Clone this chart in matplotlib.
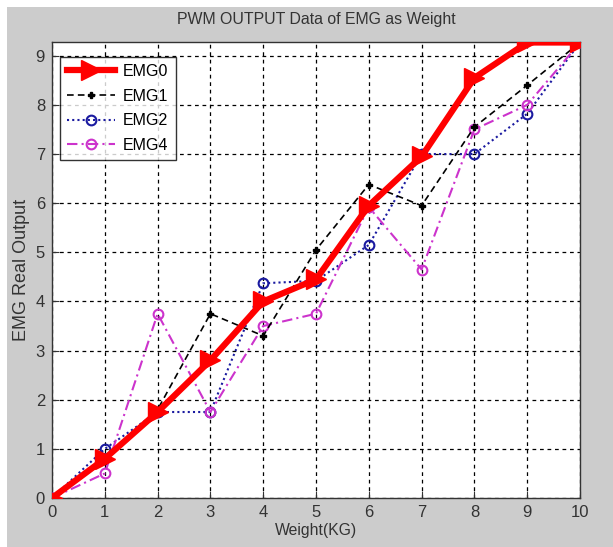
import matplotlib
matplotlib.use("Agg")
import matplotlib.pyplot as plt
from matplotlib.patches import Rectangle

weight = [0, 1, 2, 3, 4, 5, 6, 7, 8, 9, 10]
emg0 = [0, 0.8, 1.75, 2.8, 4.0, 4.45, 5.95, 6.95, 8.55, 9.27, 9.27]
emg1 = [0, 0.75, 1.8, 3.75, 3.3, 5.05, 6.38, 5.95, 7.55, 8.4, 9.27]
emg2 = [0, 1.0, 1.75, 1.75, 4.37, 4.42, 5.15, 7.0, 7.0, 7.82, 9.27]
emg4 = [0, 0.5, 3.75, 1.75, 3.5, 3.75, 5.92, 4.65, 7.5, 8.0, 9.27]
xticks = [0, 1, 2, 3, 4, 5, 6, 7, 8, 9, 10]
yticks = [0, 1, 2, 3, 4, 5, 6, 7, 8, 9]

plt.rcParams['font.family'] = ['Liberation Sans', 'DejaVu Sans']

W, H = 613, 547
fig = plt.figure(figsize=(W / 100, H / 100), dpi=100, facecolor='white')
bg = Rectangle((7 / W, 0), 1 - 7 / W, 1 - 7 / H, transform=fig.transFigure,
               facecolor='#cccccc', edgecolor='none', zorder=-10)
fig.add_artist(bg)
ax = fig.add_axes([52 / W, 1 - 498 / H, 528 / W, 456 / H])
ax.set_zorder(1)
ax.set_facecolor('white')

ax.plot(weight, emg0, color='#ff0000', lw=4.5, marker='>', markersize=14, label='EMG0', zorder=5)
ax.plot(weight, emg1, color='black', lw=1.2, ls=(0, (4, 2.5)), marker='P', markersize=5, label='EMG1', zorder=4)
ax.plot(weight, emg2, color='#1a1aa0', lw=1.5, ls=(0, (1, 1.5)), marker='o', markersize=7,
        markerfacecolor='none', markeredgewidth=1.5, label='EMG2', zorder=3)
ax.plot(weight, emg4, color='#cc33cc', lw=1.5, ls=(0, (5, 2, 1, 2)), marker='o', markersize=7,
        markerfacecolor='none', markeredgewidth=1.5, label='EMG4', zorder=3)

ax.set_xlim(0, 10)
ax.set_ylim(0, 9.28)
ax.set_xticks(xticks)
ax.set_yticks(yticks)
ax.tick_params(direction='in', length=5, labelsize=12, colors='#333333', pad=5)
ax.grid(True, color='black', ls=(0, (3, 3)), lw=0.9)
for s in ax.spines.values():
    s.set_color('#333333')
    s.set_linewidth(1)

ax.set_title('PWM OUTPUT Data of EMG as Weight', fontsize=11.4, color='#333333', pad=13)
ax.set_xlabel('Weight(KG)', fontsize=11.3, color='#333333', labelpad=2)
ax.set_ylabel('EMG Real Output', fontsize=13, color='#333333', labelpad=4)

leg = ax.legend(loc='upper left', bbox_to_anchor=(0.0, 0.985), fontsize=11.5, frameon=True,
                fancybox=False, edgecolor='black', handlelength=3.0, borderpad=0.45,
                labelspacing=0.6, borderaxespad=0.5, handletextpad=0.5)
leg.get_frame().set_linewidth(1)

fig.savefig('out.png', dpi=100, facecolor=fig.get_facecolor())
